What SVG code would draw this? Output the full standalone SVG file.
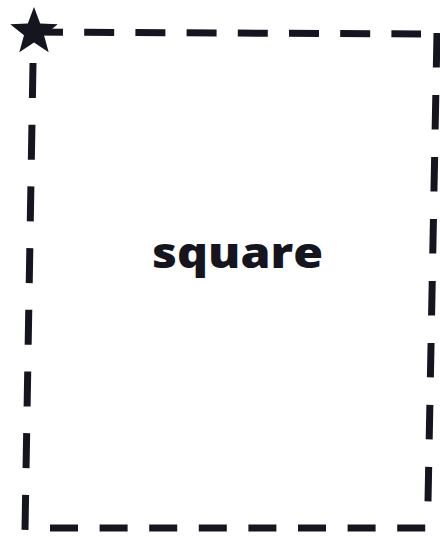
<svg xmlns="http://www.w3.org/2000/svg" width="440" height="537" viewBox="0 0 440 537">
  <style>
    .edge { stroke: #15151f; stroke-width: 7; fill: none; stroke-linecap: butt; }
    .label { font-family: "Open Sans", "DejaVu Sans", sans-serif; font-weight: 800; font-size: 43px; fill: #15151f; }
  </style>
  <rect width="440" height="537" fill="#ffffff"/>
  <g id="connectors">
    <line class="edge" x1="33" y1="32" x2="421" y2="34" stroke-dasharray="30 21.2"/>
    <line class="edge" x1="437" y1="33" x2="428" y2="502" stroke-dasharray="34.5 27.5"/>
    <line class="edge" x1="50" y1="528" x2="428" y2="528" stroke-dasharray="28 21.6"/>
    <line class="edge" x1="33" y1="63" x2="25" y2="530" stroke-dasharray="35 26.7"/>
  </g>
  <g id="star">
    <polygon fill="#15151f" points="34,7 40.2,23.5 57.8,24.3 44,35.2 48.7,52.2 34,42.5 19.3,52.2 24,35.2 10.2,24.3 27.8,23.5"/>
  </g>
  <g id="square">
    <text class="label" x="237.5" y="268" text-anchor="middle" textLength="171" lengthAdjust="spacingAndGlyphs">square</text>
  </g>
</svg>
